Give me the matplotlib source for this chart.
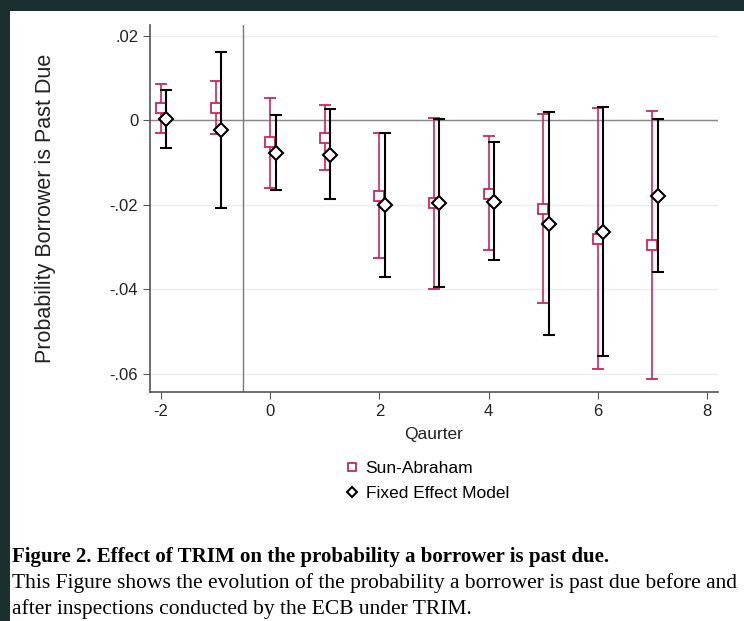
import matplotlib
matplotlib.use('Agg')
import matplotlib.pyplot as plt
from matplotlib.patches import Rectangle
import numpy as np

# quarters relative to inspection
quarters = [-2, -1, 0, 1, 2, 3, 4, 5, 6, 7]

# Sun-Abraham estimates and 95% CI
sa_coef = [0.0029, 0.0030, -0.0052, -0.0041, -0.0178, -0.0196, -0.0174, -0.0210, -0.0281, -0.0295]
sa_lo = [-0.0029, -0.0032, -0.0160, -0.0118, -0.0325, -0.0400, -0.0307, -0.0432, -0.0589, -0.0613]
sa_hi = [0.0086, 0.0094, 0.0054, 0.0036, -0.0029, 0.0006, -0.0036, 0.0015, 0.0030, 0.0023]

# Fixed effect model estimates and 95% CI
fe_coef = [0.0003, -0.0023, -0.0076, -0.0081, -0.0200, -0.0196, -0.0194, -0.0245, -0.0263, -0.0180]
fe_lo = [-0.0065, -0.0207, -0.0164, -0.0186, -0.0371, -0.0394, -0.0331, -0.0508, -0.0557, -0.0360]
fe_hi = [0.0073, 0.0162, 0.0014, 0.0027, -0.0029, 0.0003, -0.0052, 0.0019, 0.0033, 0.0003]

yticks = [0.02, 0, -0.02, -0.04, -0.06]
ytick_labels = ['.02', '0', '-.02', '-.04', '-.06']
xticks = [-2, 0, 2, 4, 6, 8]

RED = '#c8285a'
GRID = '#e9efef'
AXC = '#555555'

plt.rcParams['font.family'] = ['Liberation Sans', 'DejaVu Sans']
plt.rcParams['axes.unicode_minus'] = False

fig = plt.figure(figsize=(7.44, 6.21), dpi=100)
fig.patch.set_facecolor('#1b2f2f')
fig.patches.append(Rectangle((10 / 744, 0), 1, 1 - 11 / 621, transform=fig.transFigure,
                             facecolor='white', edgecolor='none', zorder=-1))

ax = fig.add_axes([150 / 744, 1 - 392 / 621, 568 / 744, 367 / 621])
ax.set_facecolor('white')

x = np.array(quarters, dtype=float)
sa_coef = np.array(sa_coef)
fe_coef = np.array(fe_coef)

for yt in yticks:
    ax.axhline(yt, color=GRID, lw=1, zorder=0)
ax.axhline(0, color='#888888', lw=1, zorder=1)
ax.axvline(-0.5, color='#777777', lw=1, zorder=1)

sa_err = [sa_coef - np.array(sa_lo), np.array(sa_hi) - sa_coef]
fe_err = [fe_coef - np.array(fe_lo), np.array(fe_hi) - fe_coef]

ax.errorbar(x, sa_coef, yerr=sa_err, fmt='s', mfc='white', mec=RED, ecolor=RED,
            ms=7.5, mew=1.3, elinewidth=1.2, capsize=4, capthick=1.5, zorder=3,
            label='Sun-Abraham')
ax.errorbar(x + 0.1, fe_coef, yerr=fe_err, fmt='D', mfc='white', mec='black',
            ecolor='black', ms=7, mew=1.5, elinewidth=1.5, capsize=4, capthick=2,
            zorder=4, label='Fixed Effect Model')

ax.set_xlim(-2.2, 8.2)
ax.set_ylim(-0.0643, 0.0226)
ax.set_xticks(xticks)
ax.set_yticks(yticks)
ax.set_yticklabels(ytick_labels)
ax.tick_params(axis='both', labelsize=12, colors=AXC, labelcolor='#222222',
               length=5, direction='out')
for side in ['top', 'right']:
    ax.spines[side].set_visible(False)
for side in ['left', 'bottom']:
    ax.spines[side].set_color(AXC)
    ax.spines[side].set_linewidth(1.2)

ax.set_xlabel('Qaurter', fontsize=12.5, color='#222222', labelpad=6)
ax.set_ylabel('Probability Borrower is Past Due', fontsize=15.5, color='#222222')
ax.yaxis.set_label_coords(-0.166, 0.5)

handles, labels = ax.get_legend_handles_labels()
leg = fig.legend([h[0] for h in handles], labels, loc='center',
                 bbox_to_anchor=(426 / 744, 1 - 481 / 621), frameon=False,
                 fontsize=12.5, handletextpad=0.3, labelspacing=0.55, handlelength=1.0,
                 markerscale=0.8)

fig.text(12 / 744, 1 - 557 / 621, 'Figure 2. Effect of TRIM on the probability a borrower is past due.',
         family='Liberation Serif', fontweight='bold', fontsize=15, va='center', ha='left')
fig.text(12 / 744, 1 - 583 / 621,
         'This Figure shows the evolution of the probability a borrower is past due before and',
         family='Liberation Serif', fontsize=15.5, va='center', ha='left')
fig.text(12 / 744, 1 - 609 / 621, 'after inspections conducted by the ECB under TRIM.',
         family='Liberation Serif', fontsize=15.5, va='center', ha='left')

fig.savefig('out.png', dpi=100, facecolor=fig.get_facecolor())
